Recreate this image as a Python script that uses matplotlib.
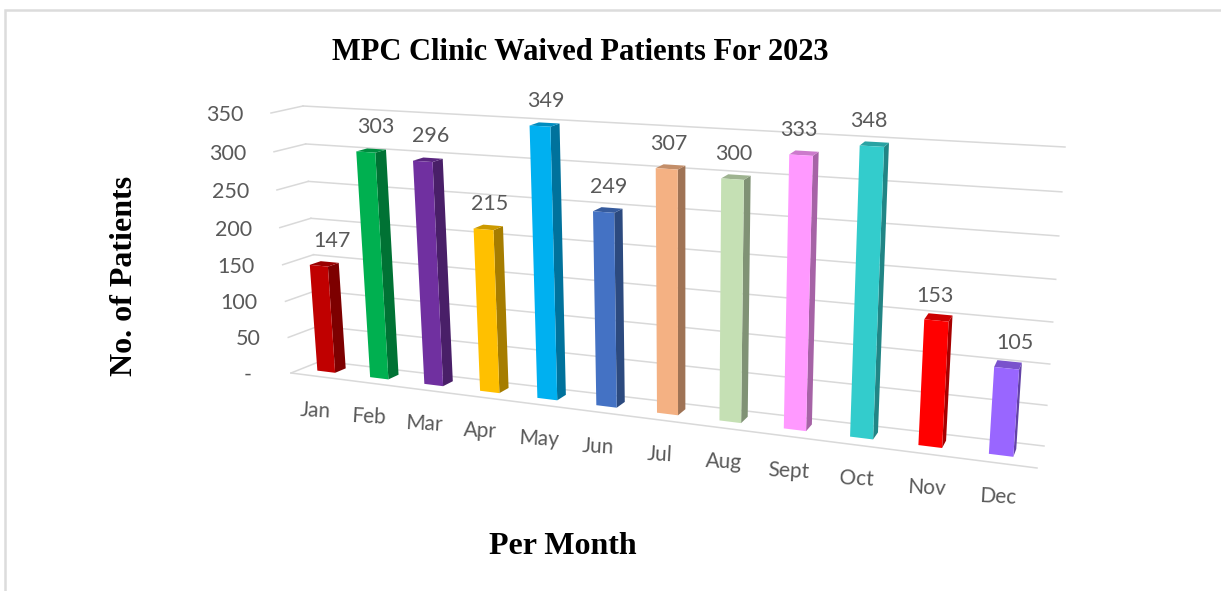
import numpy as np
import matplotlib
matplotlib.use("Agg")
import matplotlib.pyplot as plt
from matplotlib.transforms import Transform

months = ["Jan", "Feb", "Mar", "Apr", "May", "Jun", "Jul", "Aug", "Sept", "Oct", "Nov", "Dec"]
patients = [147, 303, 296, 215, 349, 249, 307, 300, 333, 348, 153, 105]
front_colors = ["#C00000", "#00B050", "#7030A0", "#FFC000", "#00B0F0", "#4472C4",
                "#F4B183", "#C5E0B4", "#FF99FF", "#33CCCC", "#FF0000", "#9966FF"]
y_ticks = [0, 50, 100, 150, 200, 250, 300, 350]
y_tick_labels = ["-\u00a0\u00a0", "50", "100", "150", "200", "250", "300", "350"]
title = "MPC Clinic Waived Patients For 2023"
x_title = "Per Month"
y_title = "No. of Patients"

# Camera of the 3-D look: pixel corners (x=0,v=0),(12,0),(12,350),(0,350) of the nearest and farthest plane
NEAR = np.array([[291, 373], [1037, 468], [1059, 160], [271, 113]], float)
FAR = np.array([[321, 361], [1044, 446], [1065, 147], [303, 106]], float)
X_MAX, V_MAX = 12.0, 350.0
BAR_Z = (0.36, 0.72)
BAR_W = 0.34
BAR_SHIFT = -0.03
LABEL_NUDGE = [13, 10, 8, 6, 6, 5, 2, 1, -2, -3, -1, 8]


def homography(z):
    dst = NEAR + (FAR - NEAR) * z
    src = [(0, 0), (X_MAX, 0), (X_MAX, V_MAX), (0, V_MAX)]
    A, b = [], []
    for (x, y), (u, v) in zip(src, dst):
        A.append([x, y, 1, 0, 0, 0, -u * x, -u * y]); b.append(u)
        A.append([0, 0, 0, x, y, 1, -v * x, -v * y]); b.append(v)
    return np.append(np.linalg.solve(np.array(A), np.array(b)), 1).reshape(3, 3)


class Depth(Transform):
    input_dims = output_dims = 2
    is_separable = False
    has_inverse = False

    def __init__(self, z):
        super().__init__()
        self.H = homography(z)

    def transform_non_affine(self, values):
        values = np.asarray(values, float)
        q = np.column_stack([values, np.ones(len(values))]) @ self.H.T
        return q[:, :2] / q[:, 2:]


def pt(x, v, z):
    return Depth(z).transform_non_affine(np.array([[x, v]], float))[0]


def shade(color, f):
    return tuple(c * f for c in matplotlib.colors.to_rgb(color))


fig = plt.figure(figsize=(12.21, 5.91), dpi=100, facecolor="white")
ax = fig.add_axes([0, 0, 1, 1])
ax.set_xlim(0, 1221)
ax.set_ylim(591, 0)
ax.axis("off")
ax.set_autoscale_on(False)

GRID = "#D9D9D9"
ax.plot([5, 5, 1221], [591, 10, 10], color="#DCDCDC", lw=1.8, solid_joinstyle="miter")

far = Depth(1) + ax.transData
near = Depth(0) + ax.transData
for v in y_ticks:
    ax.plot([0, X_MAX], [v, v], transform=far, color=GRID, lw=1.1)
    a, b = pt(0, v, 0), pt(0, v, 1)
    ax.plot([a[0], b[0]], [a[1], b[1]], color=GRID, lw=1.1)
ax.plot([0, X_MAX], [0, 0], transform=near, color=GRID, lw=1.1)

z0, z1 = BAR_Z
front = Depth(z0) + ax.transData
for i, (val, col) in enumerate(zip(patients, front_colors)):
    c = i + 0.5 + BAR_SHIFT
    xl, xr = c - BAR_W / 2, c + BAR_W / 2
    side = [pt(xr, 0, z0), pt(xr, 0, z1), pt(xr, val, z1), pt(xr, val, z0)]
    top = [pt(xl, val, z0), pt(xr, val, z0), pt(xr, val, z1), pt(xl, val, z1)]
    ax.fill(*zip(*side), color=shade(col, 0.65), lw=0, zorder=3 + i)
    ax.fill(*zip(*top), color=shade(col, 0.8), lw=0, zorder=3 + i)
    ax.bar(c, val, BAR_W, color=col, lw=0, transform=front, zorder=3 + i)
    cx, cy = pt(c, val, z0)
    ax.annotate(str(val), (cx, cy), xytext=(LABEL_NUDGE[i], 25), textcoords="offset pixels",
                ha="center", va="center", fontsize=15.5, family="Lato",
                color="#595959", zorder=30)
    mx, my = pt(i + 0.5, 0, 0)
    ax.annotate(months[i], (mx, my), xytext=(-2, -34), textcoords="offset pixels",
                ha="center", va="center", fontsize=15, family="Lato", rotation=-3,
                color="#595959", zorder=30)

for v, lab in zip(y_ticks, y_tick_labels):
    px, py = pt(0, v, 0)
    ax.annotate(lab, (px, py), xytext=(-28, -2), textcoords="offset pixels", ha="right",
                va="center", fontsize=15.5, family="Lato", color="#595959")

serif = dict(family="Liberation Serif", fontweight="bold", color="black", ha="center", va="center")
ax.text(580, 52, title, fontsize=22, **serif)
ax.text(563, 546, x_title, fontsize=23, **serif)
ax.text(124, 275.5, y_title, fontsize=23, rotation=90, **serif)

fig.savefig("out.png", dpi=100, facecolor="white")
